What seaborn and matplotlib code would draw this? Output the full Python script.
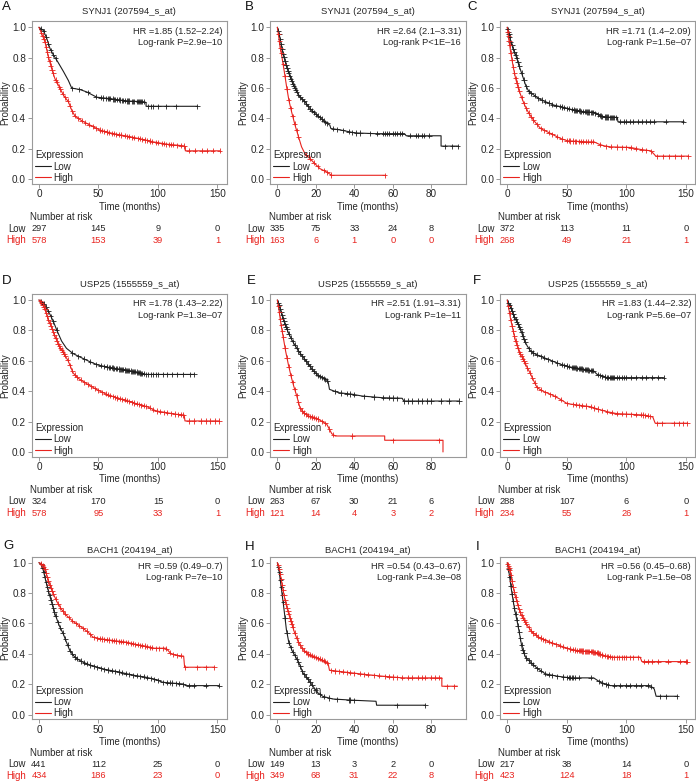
import numpy as np
import pandas as pd
import matplotlib
matplotlib.use("Agg")
import matplotlib.pyplot as plt
import seaborn as sns
from matplotlib.transforms import ScaledTranslation, blended_transform_factory

# ---------------- data ----------------
titles = ["SYNJ1 (207594_s_at)", "SYNJ1 (207594_s_at)", "SYNJ1 (207594_s_at)",
          "USP25 (1555559_s_at)", "USP25 (1555559_s_at)", "USP25 (1555559_s_at)",
          "BACH1 (204194_at)", "BACH1 (204194_at)", "BACH1 (204194_at)"]
letters = ["A", "B", "C", "D", "E", "F", "G", "H", "I"]
hr_texts = ["HR =1.85 (1.52–2.24)", "HR =2.64 (2.1–3.31)", "HR =1.71 (1.4–2.09)",
            "HR =1.78 (1.43–2.22)", "HR =2.51 (1.91–3.31)", "HR =1.83 (1.44–2.32)",
            "HR =0.59 (0.49–0.7)", "HR =0.54 (0.43–0.67)", "HR =0.56 (0.45–0.68)"]
p_texts = ["Log-rank P=2.9e–10", "Log-rank P<1E–16", "Log-rank P=1.5e–07",
           "Log-rank P=1.3e–07", "Log-rank P=1e–11", "Log-rank P=5.6e–07",
           "Log-rank P=7e–10", "Log-rank P=4.3e–08", "Log-rank P=1.5e–08"]
ticks_long = [0, 50, 100, 150]
ticks_short = [0, 20, 40, 60, 80]

risk_low = [[297, 145, 9, 0], [335, 75, 33, 24, 8], [372, 113, 11, 0],
            [324, 170, 15, 0], [263, 67, 30, 21, 6], [288, 107, 6, 0],
            [441, 112, 25, 0], [149, 13, 3, 2, 0], [217, 38, 14, 0]]
risk_high = [[578, 153, 39, 1], [163, 6, 1, 0, 0], [268, 49, 21, 1],
             [578, 95, 33, 1], [121, 14, 4, 3, 2], [234, 55, 26, 1],
             [434, 186, 23, 0], [349, 68, 31, 22, 8], [423, 124, 18, 1]]

# Panel A
a_low_t = [0, 3.6, 6.4, 9.3, 12, 16, 20.5, 24.7, 27.5, 34.5, 40, 48.5, 60, 74, 88, 90, 90, 133]
a_low_p = [1.0, 0.98, 0.93, 0.86, 0.82, 0.77, 0.71, 0.65, 0.60, 0.59, 0.575, 0.54, 0.53, 0.515, 0.51, 0.505, 0.48, 0.48]
a_low_c = [2, 4, 6, 8, 10, 12, 14, 28, 34, 41, 48, 52, 54, 56, 58, 59, 60, 62, 63, 64, 66, 67, 68, 70, 71, 72, 74, 75, 76, 78, 79, 80, 82, 83, 84, 85, 86, 87, 88, 92, 94, 96, 100, 107, 115, 133]
a_high_t = [0, 2.2, 5, 7.8, 10.6, 13.5, 17, 20.5, 24.7, 27.5, 30.3, 36, 43, 51.3, 62.5, 73.7, 85, 96, 107, 121.4, 123, 123, 152]
a_high_p = [1.0, 0.96, 0.905, 0.81, 0.73, 0.66, 0.61, 0.554, 0.51, 0.455, 0.415, 0.385, 0.356, 0.323, 0.30, 0.284, 0.266, 0.246, 0.231, 0.22, 0.215, 0.187, 0.187]
a_high_c = [2, 3, 4, 5, 6, 7, 8, 9, 10, 11, 12, 14, 15, 17, 18, 20, 22, 24, 26, 28, 30, 33, 36, 39, 42, 45, 48, 51, 53, 55, 57, 59, 61, 63, 65, 67, 69, 72, 74, 76, 78, 80, 83, 85, 87, 89, 91, 93, 95, 98, 100, 103, 105, 107, 109, 111, 113, 116, 119, 122, 126, 131, 137, 141, 146, 152]

# Panel B
b_low_t = [0, 0.9, 1.9, 3.1, 4.8, 6.6, 8.3, 10, 11.7, 14.3, 16.9, 19.5, 22.1, 24.7, 27.3, 27.8, 33.3, 40.2, 50.6, 66.1, 67, 85.1, 85.1, 93.8]
b_low_p = [1.0, 0.96, 0.895, 0.82, 0.74, 0.675, 0.62, 0.576, 0.543, 0.51, 0.466, 0.433, 0.407, 0.378, 0.356, 0.334, 0.323, 0.305, 0.30, 0.30, 0.286, 0.286, 0.218, 0.218]
b_low_c = [0.5, 1, 1.5, 2, 2.5, 3, 3.5, 4, 4.5, 5, 5.5, 6, 6.5, 7, 7.5, 8, 8.5, 9, 9.5, 10, 11, 12, 13, 14, 15, 16, 17, 18, 19, 20, 21, 22, 23, 24, 25, 26, 29, 31, 34, 37, 39, 41, 43, 48, 52, 55, 56, 57, 58, 60, 61, 62, 64, 65, 69, 72, 73, 75, 76, 79, 87, 91, 93.8]
b_high_t = [0, 0.7, 1.4, 2.2, 3.6, 4.8, 6, 7.4, 9.2, 10.9, 12.6, 14.3, 16.9, 19.5, 22.1, 25.6, 28.2, 55.8]
b_high_p = [1.0, 0.94, 0.87, 0.82, 0.71, 0.61, 0.52, 0.444, 0.356, 0.284, 0.213, 0.17, 0.136, 0.103, 0.07, 0.048, 0.026, 0.026]
b_high_c = [0.5, 1, 1.5, 2, 3, 4, 5, 6, 7, 8, 9, 10, 11, 15, 17, 19, 21, 24, 26, 28, 55.8]

# Panel C
c_low_t = [0, 1.4, 2.8, 5, 7, 9.8, 12.6, 15.4, 18.2, 22.4, 26.6, 32.2, 39.2, 47.7, 56, 64.5, 72.9, 77, 81.3, 92.5, 93, 148.6]
c_low_p = [1.0, 0.96, 0.905, 0.86, 0.82, 0.75, 0.686, 0.62, 0.576, 0.554, 0.53, 0.51, 0.488, 0.472, 0.455, 0.444, 0.44, 0.422, 0.41, 0.407, 0.378, 0.378]
c_low_c = [0.5, 1, 1.5, 2, 3, 4, 5, 6, 7, 8, 9, 10, 12, 14, 16, 18, 20, 23, 26, 29, 32, 35, 38, 41, 44, 46, 48, 50, 52, 54, 56, 57, 58, 59, 60, 61, 62, 64, 65, 66, 67, 68, 69, 70, 71, 72, 74, 76, 78, 79, 80, 82, 83, 84, 85, 86, 87, 88, 89, 90, 91, 95, 98, 100, 103, 106, 110, 113, 117, 120, 123, 133, 148]
c_high_t = [0, 1.4, 2.8, 5, 7, 9.3, 11.8, 14.6, 18.2, 22.4, 28, 33.6, 39.2, 44.9, 50.5, 67.3, 72.9, 77, 81.3, 86.9, 103.7, 112, 120.5, 123.4, 124.8, 152]
c_high_p = [1.0, 0.916, 0.84, 0.74, 0.664, 0.598, 0.543, 0.488, 0.433, 0.385, 0.334, 0.312, 0.29, 0.268, 0.253, 0.246, 0.246, 0.231, 0.22, 0.213, 0.209, 0.196, 0.187, 0.165, 0.152, 0.152]
c_high_c = [0.5, 1, 1.5, 2, 3, 4, 5, 6, 7, 8, 9, 10, 12, 14, 16, 18, 20, 22, 25, 28, 31, 35, 38, 42, 46, 50, 52, 53, 55, 57, 58, 60, 62, 64, 66, 68, 70, 72, 78, 83, 87, 92, 96, 100, 104, 108, 113, 117, 121, 126, 131, 136, 141, 146, 152]

# Panel D
d_low_t = [0, 3.6, 6.4, 9.2, 12, 15.3, 19, 23.1, 28.7, 35.7, 42.7, 49.6, 59.4, 70.5, 81.7, 90, 130.5]
d_low_p = [1.0, 0.98, 0.95, 0.906, 0.86, 0.796, 0.73, 0.682, 0.647, 0.62, 0.594, 0.572, 0.555, 0.542, 0.526, 0.51, 0.51]
d_low_c = [2, 4, 6, 8, 10, 12, 15, 28, 33, 38, 43, 48, 52, 55, 57, 59, 60, 61, 62, 63, 65, 66, 67, 68, 69, 70, 71, 72, 73, 74, 75, 76, 77, 78, 79, 80, 81, 82, 83, 84, 85, 86, 87, 88, 90, 92, 94, 96, 98, 100, 104, 108, 112, 116, 121, 127, 130.5]
d_high_t = [0, 2.2, 5, 7.8, 10.6, 13.4, 16.2, 20.4, 24.5, 28.7, 32.9, 39.9, 48.2, 56.6, 65, 73.3, 81.7, 91.4, 98.4, 106.8, 115, 122, 122.7, 151.4]
d_high_p = [1.0, 0.98, 0.94, 0.873, 0.818, 0.763, 0.708, 0.654, 0.60, 0.52, 0.485, 0.45, 0.412, 0.38, 0.357, 0.34, 0.318, 0.296, 0.27, 0.259, 0.248, 0.243, 0.204, 0.204]
d_high_c = [1, 2, 3, 4, 5, 6, 7, 8, 9, 10, 11, 12, 13, 14, 15, 16, 17, 18, 19, 20, 21, 22, 24, 26, 28, 30, 32, 35, 38, 41, 44, 47, 50, 53, 56, 58, 60, 62, 64, 66, 68, 70, 72, 74, 76, 78, 80, 82, 84, 86, 88, 90, 93, 96, 99, 102, 105, 108, 111, 114, 117, 119, 121, 126, 130, 136, 140, 144, 148, 151.4]

# Panel E
e_low_t = [0, 0.9, 2.3, 4, 6.1, 8.3, 11, 13.6, 16.2, 18.8, 21.4, 24, 26.3, 27.1, 31.8, 38.8, 44, 54.4, 64.9, 65.7, 94.4]
e_low_p = [1.0, 0.97, 0.906, 0.84, 0.774, 0.72, 0.664, 0.62, 0.577, 0.533, 0.50, 0.485, 0.467, 0.412, 0.39, 0.38, 0.368, 0.357, 0.353, 0.335, 0.335]
e_low_c = [0.5, 1, 1.5, 2, 2.5, 3, 3.5, 4, 4.5, 5, 6, 7, 8, 9, 10, 11, 12, 13, 14, 15, 16, 17, 18, 19, 20, 21, 22, 23, 24, 25, 26, 30, 33, 36, 38, 40, 45, 50, 55, 58, 60, 62, 66, 68, 70, 73, 75, 78, 80, 85, 89, 94.4]
e_high_t = [0, 0.9, 1.9, 3.1, 4.3, 5.7, 7.1, 8.5, 10.1, 11.8, 13.6, 16.2, 21.4, 25.7, 28.3, 30.1, 55.8, 55.8, 86.1, 86.1]
e_high_p = [1.0, 0.93, 0.84, 0.752, 0.664, 0.577, 0.50, 0.434, 0.368, 0.29, 0.259, 0.237, 0.215, 0.182, 0.12, 0.105, 0.105, 0.077, 0.077, 0.0]
e_high_c = [0.5, 1, 1.5, 2, 2.5, 3, 4, 5, 6, 7, 8, 9, 10, 11, 12, 13, 14, 15, 16, 17, 18, 19, 20, 21, 23, 25, 27, 29, 39, 60, 84]

# Panel F
f_low_t = [0, 1.4, 3.4, 5.6, 8.4, 11.2, 14, 16.8, 19.6, 23.7, 29.3, 36.3, 44.7, 53, 64.2, 72.6, 75.4, 79.6, 83.8, 131.3]
f_low_p = [1.0, 0.976, 0.94, 0.895, 0.85, 0.807, 0.74, 0.697, 0.664, 0.643, 0.625, 0.603, 0.577, 0.559, 0.544, 0.533, 0.511, 0.50, 0.489, 0.489]
f_low_c = [1, 2, 3, 4, 5, 6, 7, 8, 9, 10, 11, 12, 13, 14, 15, 18, 20, 22, 25, 28, 31, 34, 38, 42, 46, 48, 50, 52, 54, 55, 56, 57, 58, 59, 60, 61, 62, 63, 64, 65, 66, 67, 68, 69, 70, 71, 72, 76, 78, 80, 82, 84, 85, 86, 87, 88, 89, 90, 92, 94, 96, 98, 100, 104, 108, 113, 117, 122, 127, 131.3]
f_high_t = [0, 1.4, 2.8, 5, 7, 9.8, 12.6, 15.4, 19, 22.3, 25.1, 30.7, 37.7, 44.7, 50.3, 58.7, 69.8, 76.8, 83.8, 92.2, 103.4, 114.5, 122.3, 124.3, 151.4]
f_high_p = [1.0, 0.94, 0.873, 0.796, 0.73, 0.664, 0.62, 0.577, 0.522, 0.467, 0.423, 0.397, 0.375, 0.346, 0.318, 0.309, 0.298, 0.28, 0.265, 0.252, 0.248, 0.243, 0.23, 0.189, 0.189]
f_high_c = [1, 2, 3, 4, 5, 6, 7, 8, 9, 10, 11, 12, 13, 14, 15, 17, 19, 21, 23, 25, 28, 32, 36, 40, 45, 50, 55, 58, 60, 63, 66, 70, 73, 76, 80, 84, 88, 92, 96, 100, 104, 108, 112, 114, 116, 118, 120, 126, 130, 140, 144, 148, 151.4]

# Panel G
g_low_t = [0, 2.2, 3.6, 5.6, 7.8, 10.6, 13.4, 17, 20.4, 23.1, 25.9, 30.1, 35.7, 42.7, 53.8, 67.7, 78.9, 90, 98.4, 104, 120.7, 123.5, 151.4]
g_low_p = [1.0, 0.987, 0.95, 0.884, 0.818, 0.74, 0.664, 0.587, 0.532, 0.477, 0.422, 0.378, 0.35, 0.327, 0.30, 0.28, 0.26, 0.246, 0.23, 0.213, 0.202, 0.191, 0.191]
g_low_c = [2, 3, 4, 5, 6, 7, 8, 9, 10, 11, 12, 13, 14, 16, 18, 20, 22, 24, 26, 28, 30, 32, 35, 38, 40, 43, 46, 49, 52, 55, 58, 61, 64, 67, 70, 73, 76, 79, 82, 85, 88, 91, 94, 97, 100, 104, 108, 110, 112, 115, 118, 121, 126, 130, 140, 151.4]
g_high_t = [0, 2.2, 5, 7, 9.2, 12, 15.3, 19, 23.1, 28.7, 35.7, 41.3, 45.4, 51, 62.2, 73.3, 81.7, 90, 97, 106.8, 111, 116.5, 121.6, 122.4, 147.2]
g_high_p = [1.0, 0.993, 0.96, 0.905, 0.85, 0.796, 0.74, 0.692, 0.653, 0.613, 0.576, 0.543, 0.51, 0.50, 0.488, 0.477, 0.462, 0.45, 0.437, 0.437, 0.40, 0.389, 0.385, 0.312, 0.312]
g_high_c = [2, 3, 4, 5, 6, 7, 8, 9, 10, 11, 12, 14, 16, 18, 20, 22, 25, 28, 31, 34, 37, 40, 43, 46, 49, 51, 53, 55, 57, 59, 61, 63, 65, 67, 69, 71, 73, 75, 77, 79, 81, 83, 85, 87, 89, 91, 93, 95, 98, 101, 104, 107, 110, 113, 116, 119, 123, 133, 140, 147.2]

# Panel H
h_low_t = [0, 0.9, 1.7, 2.6, 3.5, 4.7, 6, 7.8, 9.8, 11.6, 13.3, 15.9, 18.5, 21.1, 23.7, 28.8, 39.2, 51.3, 51.6, 76.9]
h_low_p = [1.0, 0.945, 0.868, 0.78, 0.69, 0.56, 0.473, 0.418, 0.374, 0.33, 0.275, 0.235, 0.187, 0.143, 0.12, 0.103, 0.095, 0.088, 0.062, 0.062]
h_low_c = [0.5, 1, 1.5, 2, 2.5, 3, 4, 5, 6, 7, 8, 9, 10, 11, 12, 13, 14, 15, 16, 17, 18, 20, 22, 24, 27, 31, 37, 38, 40, 62, 76.9]
h_high_t = [0, 0.9, 1.7, 2.9, 4.1, 5.5, 7.3, 9, 10.7, 13.3, 15.9, 19.3, 22.8, 26.3, 27.1, 35.8, 46.1, 54.7, 65.1, 85.5, 85.5, 93.6]
h_high_p = [1.0, 0.967, 0.912, 0.824, 0.747, 0.681, 0.604, 0.538, 0.484, 0.429, 0.40, 0.38, 0.363, 0.341, 0.292, 0.279, 0.264, 0.253, 0.242, 0.242, 0.187, 0.187]
h_high_c = [0.5, 1, 1.5, 2, 2.5, 3, 3.5, 4, 4.5, 5, 5.5, 6, 6.5, 7, 7.5, 8, 9, 10, 11, 12, 13, 14, 15, 16, 17, 18, 19, 20, 21, 22, 23, 24, 25, 26, 28, 30, 32, 34, 36, 38, 40, 43, 45, 47, 50, 53, 56, 58, 60, 62, 65, 68, 70, 73, 75, 77, 80, 82, 84, 88, 92]

# Panel I
i_low_t = [0, 1.4, 2.8, 4.2, 6.1, 8.4, 10.6, 12.6, 15.4, 19.6, 25.1, 32.1, 41.9, 53, 72.6, 78.2, 86.6, 120.1, 123.5, 125.1, 142.5]
i_low_p = [1.0, 0.94, 0.86, 0.785, 0.697, 0.61, 0.52, 0.433, 0.378, 0.345, 0.305, 0.268, 0.253, 0.242, 0.242, 0.213, 0.191, 0.191, 0.169, 0.121, 0.121]
i_low_c = [1, 2, 3, 4, 5, 6, 7, 8, 9, 10, 11, 12, 13, 14, 16, 18, 20, 22, 25, 28, 32, 35, 38, 42, 47, 50, 52, 53, 54, 55, 57, 60, 70, 77, 80, 83, 85, 90, 95, 100, 103, 108, 112, 118, 121, 128, 133, 142.5]
i_high_t = [0, 1.4, 2.8, 5, 7, 9.8, 12.6, 16.8, 20.9, 26.5, 33.5, 41.9, 50.3, 58.7, 69.8, 75.4, 81, 88, 111.7, 113.1, 151.4]
i_high_p = [1.0, 0.97, 0.927, 0.84, 0.774, 0.697, 0.642, 0.587, 0.543, 0.51, 0.484, 0.46, 0.437, 0.422, 0.415, 0.407, 0.389, 0.378, 0.378, 0.349, 0.349]
i_high_c = [0.5, 1, 1.5, 2, 3, 4, 5, 6, 7, 8, 9, 10, 11, 12, 13, 14, 15, 16, 18, 20, 22, 24, 26, 28, 30, 32, 35, 38, 41, 44, 47, 50, 53, 55, 57, 59, 60, 61, 62, 63, 64, 65, 66, 67, 68, 69, 70, 71, 72, 73, 74, 75, 76, 77, 78, 80, 82, 84, 85, 86, 88, 90, 92, 94, 96, 98, 100, 103, 106, 110, 115, 118, 122, 127, 135, 145, 150, 151.4]

curves_low = [(a_low_t, a_low_p, a_low_c), (b_low_t, b_low_p, b_low_c), (c_low_t, c_low_p, c_low_c),
              (d_low_t, d_low_p, d_low_c), (e_low_t, e_low_p, e_low_c), (f_low_t, f_low_p, f_low_c),
              (g_low_t, g_low_p, g_low_c), (h_low_t, h_low_p, h_low_c), (i_low_t, i_low_p, i_low_c)]
curves_high = [(a_high_t, a_high_p, a_high_c), (b_high_t, b_high_p, b_high_c), (c_high_t, c_high_p, c_high_c),
               (d_high_t, d_high_p, d_high_c), (e_high_t, e_high_p, e_high_c), (f_high_t, f_high_p, f_high_c),
               (g_high_t, g_high_p, g_high_c), (h_high_t, h_high_p, h_high_c), (i_high_t, i_high_p, i_high_c)]

# ---------------- style / layout ----------------
sns.set_style("ticks")
plt.rcParams["font.family"] = ["Liberation Sans", "DejaVu Sans"]

W, H = 696, 783
fig = plt.figure(figsize=(W / 100, H / 100), dpi=100)

RED = "#e8231e"
BLACK = "#1e1e1e"
TXT = "#262626"
GRAY = "#9a9a9a"
pal = {"Low": BLACK, "High": RED}

col_left = [31.7, 270.1, 500.0]
row_top = [21.2, 293.9, 556.6]
AW, AH = 195.4, 162.6
title_gap = [9.5, 9.5, 6.3]
letter_pos = [(2, 7.2), (245.3, 6.7), (467.3, 6.7),
              (1.7, 281), (247, 281), (473, 281),
              (3.3, 546), (245.3, 546.5), (475.7, 546.5)]


def off(dx, dy):
    return ScaledTranslation(dx / 100.0, dy / 100.0, fig.dpi_scale_trans)


for k in range(9):
    r, c = divmod(k, 3)
    left, top = col_left[c], row_top[r]
    ax = fig.add_axes([left / W, 1 - (top + AH) / H, AW / W, AH / H])
    short = (c == 1)
    ticks = ticks_short if short else ticks_long
    xlim = (-3.76, 97.8) if short else (-6.1, 158.1)

    lt, lp, lc = curves_low[k]
    ht, hp, hc = curves_high[k]
    df = pd.concat([
        pd.DataFrame({"Time": lt, "Probability": lp, "Expression": "Low"}),
        pd.DataFrame({"Time": ht, "Probability": hp, "Expression": "High"}),
    ], ignore_index=True)
    cdf = pd.concat([
        pd.DataFrame({"Time": lc, "Probability": np.interp(lc, lt, lp), "Expression": "Low"}),
        pd.DataFrame({"Time": hc, "Probability": np.interp(hc, ht, hp), "Expression": "High"}),
    ], ignore_index=True)

    sns.lineplot(data=df, x="Time", y="Probability", hue="Expression",
                 hue_order=["Low", "High"], palette=pal, estimator=None,
                 sort=False, linewidth=0.8, ax=ax)
    sns.scatterplot(data=cdf, x="Time", y="Probability", hue="Expression",
                    hue_order=["Low", "High"], palette=pal, marker="+",
                    s=14, linewidth=0.6, legend=False, ax=ax, zorder=3)

    ax.set_xlim(*xlim)
    ax.set_ylim(-0.03, 1.04)
    ax.set_xticks(ticks)
    ax.set_yticks([0, 0.2, 0.4, 0.6, 0.8, 1.0])
    ax.set_yticklabels(["0.0", "0.2", "0.4", "0.6", "0.8", "1.0"])
    ax.tick_params(length=2.9, width=0.7, color=GRAY, labelsize=7.2,
                   labelcolor=TXT, pad=1.2)
    for sp in ax.spines.values():
        sp.set_color(GRAY)
        sp.set_linewidth(0.8)

    ax.set_xlabel("Time (months)", fontsize=6.9, color=TXT, va="center")
    ax.xaxis.set_label_coords(0.5, -23 / AH)
    ax.set_ylabel("Probability", fontsize=6.9, color=TXT, va="center", ha="center")
    ax.yaxis.set_label_coords(-26.5 / AW, 0.5)

    ax.text(0.5, 1, titles[k], transform=ax.transAxes + off(0, title_gap[r]),
            ha="center", va="center", fontsize=6.8, color=TXT)
    ax.text(1, 1, hr_texts[k], transform=ax.transAxes + off(-4.4, -10),
            ha="right", va="center", fontsize=6.7, color=TXT)
    ax.text(1, 1, p_texts[k], transform=ax.transAxes + off(-4.4, -21.3),
            ha="right", va="center", fontsize=6.7, color=TXT)

    sns.move_legend(ax, "lower left", bbox_to_anchor=(3.3 / AW, 1.0 / AH),
                    frameon=False, fontsize=7, title_fontsize=7,
                    handlelength=1.6, handletextpad=0.3, labelspacing=0.12,
                    borderpad=0, borderaxespad=0, alignment="left")
    leg = ax.get_legend()
    for ln in leg.get_lines():
        ln.set_linewidth(0.8)
    for t in leg.get_texts():
        t.set_color(TXT)
    leg.get_title().set_color(TXT)

    # number at risk table
    tr = blended_transform_factory(ax.transData, ax.transAxes)
    ax.text(0, 0, "Number at risk", transform=ax.transAxes + off(-1.5, -33.5),
            ha="left", va="center", fontsize=6.9, color=TXT)
    ax.text(0, 0, "Low", transform=ax.transAxes + off(-5.5, -45),
            ha="right", va="center", fontsize=6.9, color=TXT)
    ax.text(0, 0, "High", transform=ax.transAxes + off(-5.5, -56.5),
            ha="right", va="center", fontsize=6.9, color=RED)
    for t, n in zip(ticks, risk_low[k]):
        ax.text(t, 0, str(n), transform=tr + off(0, -45), ha="center",
                va="center", fontsize=6.7, color=TXT, clip_on=False)
    for t, n in zip(ticks, risk_high[k]):
        ax.text(t, 0, str(n), transform=tr + off(0, -56.5), ha="center",
                va="center", fontsize=6.7, color=RED, clip_on=False)

    lx, ly = letter_pos[k]
    fig.text(lx / W, 1 - ly / H, letters[k], ha="left", va="center",
             fontsize=9.5, color="#111111")

fig.savefig("out.png", dpi=100)
